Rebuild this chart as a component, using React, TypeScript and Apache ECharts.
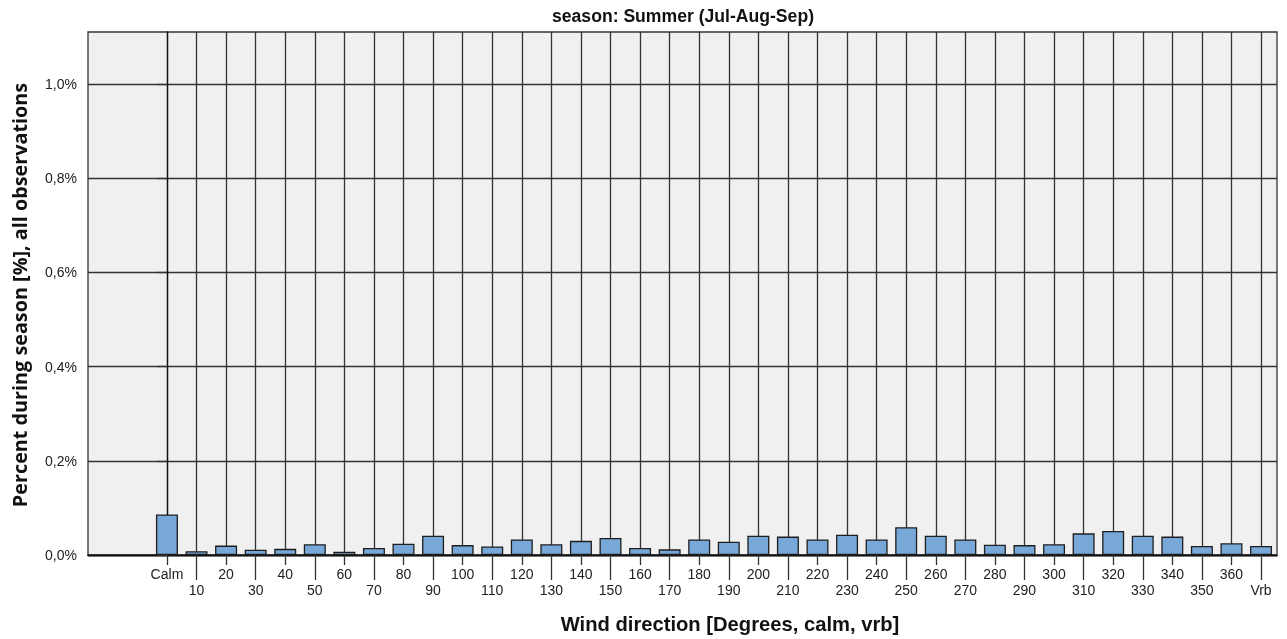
import React, { useEffect, useRef } from "react";
import * as echarts from "echarts";

const categories = ["Calm","10","20","30","40","50","60","70","80","90","100","110","120","130","140","150","160","170","180","190","200","210","220","230","240","250","260","270","280","290","300","310","320","330","340","350","360","Vrb"];
const percentValues = [0.086,0.008,0.020,0.011,0.013,0.023,0.007,0.015,0.024,0.041,0.021,0.018,0.033,0.023,0.030,0.036,0.015,0.012,0.033,0.028,0.041,0.039,0.033,0.043,0.033,0.059,0.041,0.033,0.022,0.021,0.023,0.046,0.051,0.041,0.039,0.019,0.025,0.019];
const yTicks = [0, 0.2, 0.4, 0.6, 0.8, 1.0];
const titleText = "season: Summer (Jul-Aug-Sep)";
const xTitle = "Wind direction [Degrees, calm, vrb]";
const yTitle = "Percent during season [%], all observations";

const FONT = 'Arial, "Liberation Sans", sans-serif';

export default function App() {
  const ref = useRef<HTMLDivElement>(null);
  useEffect(() => {
    if (!ref.current) return;
    const chart = echarts.init(ref.current, null, { renderer: "svg" });
    const evenIdx = categories.map((_, i) => i).filter((i) => i % 2 === 0);
    const oddIdx = categories.map((_, i) => i).filter((i) => i % 2 === 1);
    const xMin = -2.67;
    const xMax = 37.54;
    const lineColor = "#333";
    const makeX = (vals: number[], tickLen: number, margin: number) => ({
      type: "value",
      position: "bottom",
      min: xMin,
      max: xMax,
      axisLine: { show: true, lineStyle: { color: "#111", width: 1.3 } },
      axisTick: { show: true, customValues: vals, length: tickLen, lineStyle: { color: lineColor, width: 1.3 } },
      axisLabel: {
        show: true,
        customValues: vals,
        margin,
        color: "#222",
        fontSize: 14,
        fontFamily: FONT,
        formatter: (v: number) => categories[Math.round(v)] ?? "",
      },
      splitLine: { show: true, lineStyle: { color: lineColor, width: 1.3 } },
    });
    chart.setOption({
      animation: false,
      grid: {
        left: 88,
        top: 32,
        right: 10,
        bottom: 84,
        show: true,
        backgroundColor: "#f0f0f0",
        borderColor: "#333",
        borderWidth: 1.3,
        containLabel: false,
      },
      xAxis: [makeX(evenIdx, 10, 12), makeX(oddIdx, 25, 28)],
      yAxis: {
        type: "value",
        min: 0,
        max: 1.11,
        axisLine: { show: true, lineStyle: { color: "#111", width: 1.3 } },
        axisTick: { show: true, customValues: yTicks, length: 10, lineStyle: { color: lineColor, width: 1.3 } },
        axisLabel: {
          customValues: yTicks,
          margin: 11,
          color: "#222",
          fontSize: 14,
          fontFamily: FONT,
          formatter: (v: number) => v.toFixed(1).replace(".", ",") + "%",
        },
        splitLine: { show: true, lineStyle: { color: lineColor, width: 1.3 } },
      },
      series: [
        {
          type: "bar",
          xAxisIndex: 0,
          yAxisIndex: 0,
          barWidth: 22,
          data: percentValues.map((v, i) => [i, v]),
          itemStyle: { color: "#78a8d8", borderColor: "#1e1e1e", borderWidth: 1.3 },
        },
      ],
      graphic: [
        {
          type: "text",
          x: 683,
          y: 16,
          style: { text: titleText, font: `bold 17.6px ${FONT}`, fill: "#111", align: "center", verticalAlign: "middle" },
        },
        {
          type: "text",
          x: 730,
          y: 624,
          style: { text: xTitle, font: `bold 20.2px ${FONT}`, fill: "#111", align: "center", verticalAlign: "middle" },
        },
        {
          type: "text",
          x: 19,
          y: 295,
          rotation: Math.PI / 2,
          style: { text: yTitle, font: `bold 19.8px "Open Sans", "Noto Sans", sans-serif`, fill: "#111", align: "center", verticalAlign: "middle" },
        },
      ],
    });
    return () => chart.dispose();
  }, []);
  return <div ref={ref} style={{ position: "fixed", left: 0, top: 0, width: 1287, height: 639 }} />;
}
